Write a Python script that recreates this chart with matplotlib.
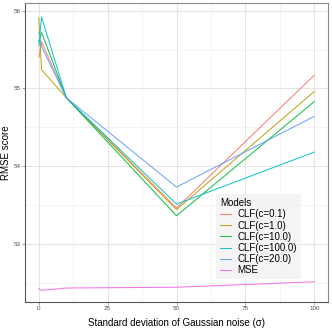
import matplotlib
matplotlib.use("Agg")
import matplotlib.pyplot as plt
import numpy as np

noise_std = [0, 1, 10, 50, 100]
models = ["CLF(c=0.1)", "CLF(c=1.0)", "CLF(c=10.0)", "CLF(c=100.0)", "CLF(c=20.0)", "MSE"]
rmse = {
    "CLF(c=0.1)": [55.40, 55.60, 54.88, 53.46, 55.17],
    "CLF(c=1.0)": [55.91, 55.24, 54.88, 53.44, 54.96],
    "CLF(c=10.0)": [55.60, 55.72, 54.88, 53.36, 54.83],
    "CLF(c=100.0)": [55.55, 55.92, 54.88, 53.51, 54.18],
    "CLF(c=20.0)": [55.72, 55.54, 54.88, 53.73, 54.64],
    "MSE": [52.42, 52.40, 52.43, 52.44, 52.51],
}
colors = ["#F8766D", "#B79F00", "#00BA38", "#00BFC4", "#619CFF", "#F564E3"]

plt.rcParams["font.family"] = ["Liberation Sans", "DejaVu Sans"]

fig = plt.figure(figsize=(3.32, 3.32), dpi=100)
ax = fig.add_axes([0.0753, 0.0904, 0.9127, 0.9006])

for name, color in zip(models, colors):
    ax.plot(noise_std, rmse[name], color=color, lw=0.75, alpha=0.9, label=name)

ax.set_xlim(-5, 105)
ax.set_ylim(52.25, 56.1)
ax.set_xticks([0, 25, 50, 75, 100])
ax.set_yticks([53, 54, 55, 56])
ax.set_xticks(np.arange(12.5, 100, 25), minor=True)
ax.set_yticks([52.5, 53.5, 54.5, 55.5], minor=True)
ax.grid(which="major", color="#e5e5e5", lw=0.8)
ax.grid(which="minor", color="#f0f0f0", lw=0.5)
ax.set_axisbelow(True)
ax.tick_params(which="major", labelsize=4.5, colors="#7f7f7f", labelcolor="#4d4d4d", length=2, width=0.5, pad=1.2)
ax.tick_params(which="minor", length=0)
for side in ax.spines.values():
    side.set_color("#8a8a8a")
    side.set_linewidth(0.8)
ax.spines["left"].set_color("#555555")
ax.spines["bottom"].set_color("#555555")

ax.set_xlabel("Standard deviation of Gaussian noise (σ)", fontsize=7)
ax.set_ylabel("RMSE score", fontsize=7)
ax.xaxis.set_label_coords(0.5, -0.055)
ax.yaxis.set_label_coords(-0.045, 0.5)

leg = ax.legend(title="Models", loc="upper left", bbox_to_anchor=(0.63, 0.36),
                fontsize=7, title_fontsize=7, frameon=True, fancybox=False,
                handlelength=1.2, handletextpad=0.6, labelspacing=0.12,
                borderpad=0.4, borderaxespad=0)
leg.get_frame().set_facecolor("#f2f2f2")
leg.get_frame().set_edgecolor("none")
leg._legend_box.align = "left"

fig.savefig("out.png", dpi=100)
